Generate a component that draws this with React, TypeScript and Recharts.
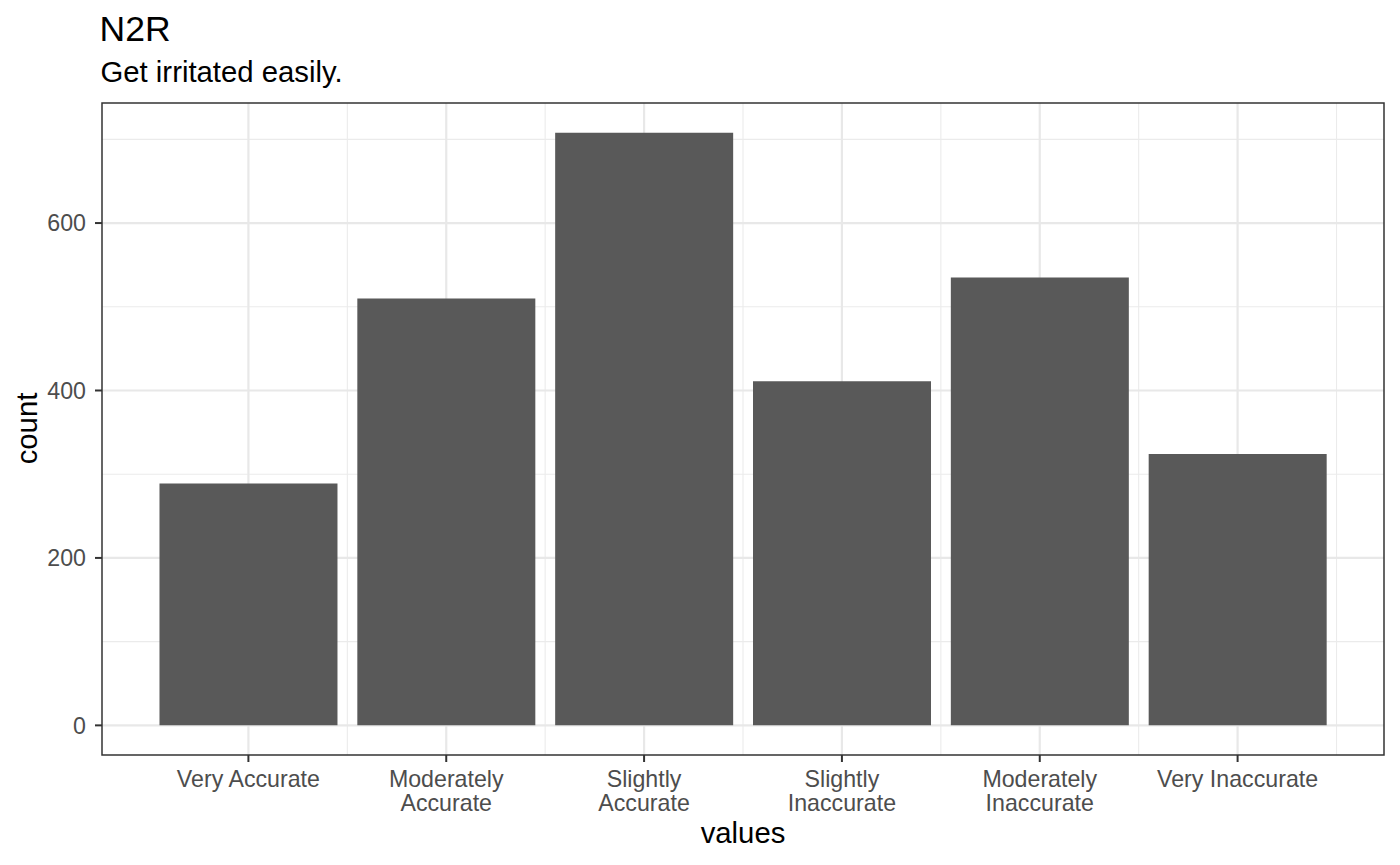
import React from 'react';
import { BarChart, Bar, XAxis, YAxis, CartesianGrid, ReferenceArea } from 'recharts';

const categories = [
  'Very Accurate',
  'Moderately\nAccurate',
  'Slightly\nAccurate',
  'Slightly\nInaccurate',
  'Moderately\nInaccurate',
  'Very Inaccurate',
];
const counts = [289, 510, 708, 411, 535, 324];
const positions = [0, 1, 2, 3, 4, 5];
const minorPositions = [0.5, 1.5, 2.5, 3.5, 4.5, 5.5];
const yTicks = [0, 200, 400, 600];
const yMinorTicks = [100, 300, 500, 700];

const titleText = 'N2R';
const subtitleText = 'Get irritated easily.';
const xTitle = 'values';
const yTitle = 'count';

const data = categories.map((c, i) => ({ pos: positions[i], label: c, count: counts[i] }));

const FONT = '"Liberation Sans", Arial, Helvetica, sans-serif';
const X_DOMAIN: [number, number] = [-0.74, 5.74];
const Y_DOMAIN: [number, number] = [-35.4, 743.4];

const XTick = (props: any) => {
  const { x, y, payload } = props;
  const idx = Math.round(payload.value);
  const lines = (categories[idx] || '').split('\n');
  return (
    <text x={x} y={y} textAnchor="middle" fill="#4D4D4D" fontSize={23.2} fontFamily={FONT}>
      {lines.map((l, i) => (
        <tspan key={i} x={x} dy={i === 0 ? 25 : 24}>
          {l}
        </tspan>
      ))}
    </text>
  );
};

export default function App() {
  return (
    <div style={{ position: 'absolute', left: 0, top: 0, width: 1400, height: 865, background: '#fff' }}>
      <BarChart
        width={1400}
        height={865}
        data={data}
        margin={{ top: 103, right: 16, bottom: 0, left: 0 }}
      >
        <CartesianGrid
          horizontalValues={yMinorTicks}
          verticalValues={minorPositions}
          stroke="#EBEBEB"
          strokeWidth={1.1}
        />
        <CartesianGrid
          horizontalValues={yTicks}
          verticalValues={positions}
          stroke="#E8E8E8"
          strokeWidth={2.2}
        />
        <XAxis
          dataKey="pos"
          type="number"
          domain={X_DOMAIN}
          allowDataOverflow
          ticks={positions}
          interval={0}
          height={110}
          tickSize={7}
          tickMargin={0}
          axisLine={false}
          tickLine={{ stroke: '#333333', strokeWidth: 2 }}
          tick={<XTick />}
        />
        <YAxis
          type="number"
          domain={Y_DOMAIN}
          allowDataOverflow
          ticks={yTicks}
          interval={0}
          width={102}
          tickSize={7}
          tickMargin={9}
          axisLine={false}
          tickLine={{ stroke: '#333333', strokeWidth: 2 }}
          tick={{ fill: '#4D4D4D', fontSize: 23.2, fontFamily: FONT }}
        />
        <Bar dataKey="count" fill="#595959" barSize={178} isAnimationActive={false} />
        <ReferenceArea
          x1={X_DOMAIN[0]}
          x2={X_DOMAIN[1]}
          y1={Y_DOMAIN[0]}
          y2={Y_DOMAIN[1]}
          fill="none"
          fillOpacity={0}
          stroke="#333333"
          strokeWidth={1.5}
          ifOverflow="visible"
        />
      </BarChart>
      <svg
        width={1400}
        height={865}
        style={{ position: 'absolute', left: 0, top: 0, pointerEvents: 'none' }}
      >
        <text x={99.5} y={41} fontSize={35.5} fontFamily={FONT} fill="#000">
          {titleText}
        </text>
        <text x={100.5} y={82} fontSize={29.3} fontFamily={FONT} fill="#000">
          {subtitleText}
        </text>
        <text x={743} y={843} textAnchor="middle" fontSize={29.3} fontFamily={FONT} fill="#000">
          {xTitle}
        </text>
        <text
          x={37}
          y={428.5}
          textAnchor="middle"
          fontSize={29.3}
          fontFamily={FONT}
          fill="#000"
          transform="rotate(-90 37 428.5)"
        >
          {yTitle}
        </text>
      </svg>
    </div>
  );
}
